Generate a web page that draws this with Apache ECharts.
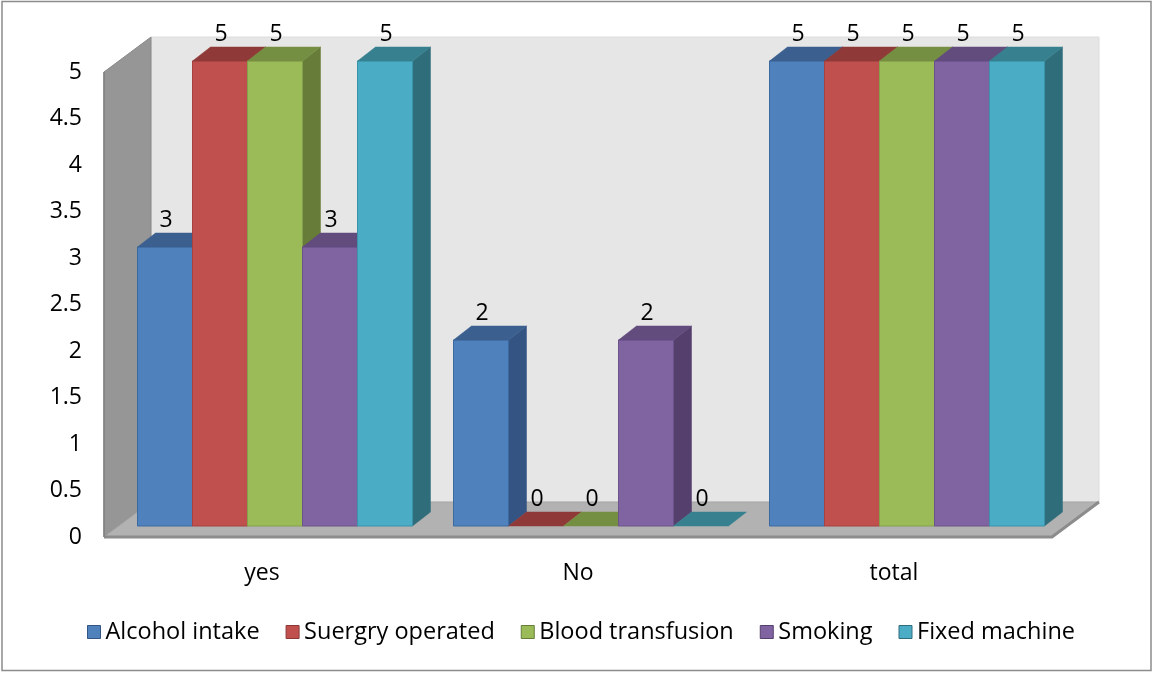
<!DOCTYPE html>
<html>
<head>
<meta charset="utf-8">
<title>Risk factors</title>
<script src="https://cdn.jsdelivr.net/npm/echarts@6/dist/echarts.min.js"></script>
<style>
  html, body { margin: 0; padding: 0; background: #ffffff; }
  #chart { width: 1154px; height: 673px; }
</style>
</head>
<body>
<div id="chart"></div>
<script>
// Categories and series values
const categories = ['yes', 'No', 'total'];
const seriesNames = ['Alcohol intake', 'Suergry operated', 'Blood transfusion', 'Smoking', 'Fixed machine'];
const alcoholIntake = [3, 2, 5];
const surgeryOperated = [5, 0, 5];
const bloodTransfusion = [5, 0, 5];
const smoking = [3, 2, 5];
const fixedMachine = [5, 0, 5];
const yMin = 0;
const yMax = 5;
const yStep = 0.5;

const seriesValues = [alcoholIntake, surgeryOperated, bloodTransfusion, smoking, fixedMachine];

// Face colours per series: front, top, side, outline
const palette = [
  { front: '#4F81BD', top: '#3B5F8E', side: '#345584', edge: '#3C6AA0' },
  { front: '#C0504D', top: '#8F3A38', side: '#8A3735', edge: '#A64340' },
  { front: '#9BBB59', top: '#758F42', side: '#667C38', edge: '#84A04A' },
  { front: '#8064A2', top: '#624B7D', side: '#553F6D', edge: '#6C5389' },
  { front: '#4BACC6', top: '#36808F', side: '#306D7B', edge: '#3A93AA' }
];

// Oblique projection offsets (pixels) used for the 3D look
const WALL_DEPTH = [47, -35];   // front plane -> back wall
const BAR_FRONT = [13, -11];    // front plane -> bar front faces
const BAR_DEPTH = [18, -14];    // bar thickness
const BAR_FRAC = 55 / 316;      // bar width as share of a category band
const FONT = '"Open Sans", "Liberation Sans", sans-serif';
const FONT_SIZE = 23;

function wallRenderer(params, api) {
  const cs = params.coordSys;
  const L = cs.x, R = cs.x + cs.width, T = cs.y, B = cs.y + cs.height;
  const dx = WALL_DEPTH[0], dy = WALL_DEPTH[1];
  return {
    type: 'group',
    children: [
      { type: 'rect', shape: { x: L + dx, y: T + dy, width: R - L, height: B - T },
        style: { fill: '#E6E6E6', stroke: '#DCDCDC', lineWidth: 1 } },
      { type: 'polygon', shape: { points: [[L, T], [L + dx, T + dy], [L + dx, B + dy], [L, B]] },
        style: { fill: '#969696', stroke: '#8A8A8A', lineWidth: 1 } },
      { type: 'polygon', shape: { points: [[L, B], [L + dx, B + dy], [R + dx, B + dy], [R, B]] },
        style: { fill: '#B2B2B2', stroke: '#A6A6A6', lineWidth: 1 } },
      { type: 'polyline', shape: { points: [[L, B], [R, B], [R + dx, B + dy]] },
        style: { fill: null, stroke: '#8C8C8C', lineWidth: 3 } },
      { type: 'line', shape: { x1: L, y1: T, x2: L, y2: B },
        style: { stroke: '#808080', lineWidth: 1.5 } }
    ]
  };
}

function barRenderer(seriesIndex) {
  const c = palette[seriesIndex];
  return function (params, api) {
    const cat = api.value(0);
    const val = api.value(1);
    const base = api.coord([cat, 0]);
    const top = api.coord([cat, val]);
    const band = api.size([1, 0])[0];
    const w = band * BAR_FRAC;
    const x1 = base[0] - 2.5 * w + seriesIndex * w + BAR_FRONT[0];
    const x2 = x1 + w;
    const yB = base[1] + BAR_FRONT[1];
    const yT = top[1] + BAR_FRONT[1];
    const dx = BAR_DEPTH[0], dy = BAR_DEPTH[1];
    const children = [];
    if (yB - yT > 0.5) {
      children.push({ type: 'polygon',
        shape: { points: [[x2, yT], [x2 + dx, yT + dy], [x2 + dx, yB + dy], [x2, yB]] },
        style: { fill: c.side, stroke: c.side, lineWidth: 0.5 } });
      children.push({ type: 'rect',
        shape: { x: x1, y: yT, width: w, height: yB - yT },
        style: { fill: c.front, stroke: c.edge, lineWidth: 1 } });
    }
    children.push({ type: 'polygon',
      shape: { points: [[x1, yT], [x1 + dx, yT + dy], [x2 + dx, yT + dy], [x2, yT]] },
      style: { fill: c.top, stroke: c.top, lineWidth: 0.5 } });
    children.push({ type: 'text', z2: 100,
      style: { text: String(val), x: (x1 + x2) / 2 + 1, y: yT + dy - 13,
        fill: '#000000', fontSize: FONT_SIZE, fontFamily: FONT,
        align: 'center', verticalAlign: 'middle' } });
    return { type: 'group', children: children };
  };
}

const chart = echarts.init(document.getElementById('chart'), null, { renderer: 'canvas' });

const series = [{
  type: 'custom',
  name: 'walls',
  z: 1,
  silent: true,
  data: [[0, 0]],
  encode: { x: 0, y: 1 },
  renderItem: wallRenderer
}];

seriesNames.forEach(function (name, i) {
  series.push({
    type: 'custom',
    name: name,
    z: 2,
    itemStyle: { color: palette[i].front },
    data: seriesValues[i].map(function (v, k) { return [k, v]; }),
    encode: { x: 0, y: 1 },
    renderItem: barRenderer(i)
  });
});

chart.setOption({
  animation: false,
  backgroundColor: '#ffffff',
  textStyle: { fontFamily: FONT },
  grid: { left: 104, right: 102, top: 72, bottom: 136, containLabel: false },
  xAxis: {
    type: 'category',
    data: categories,
    axisLine: { show: false },
    axisTick: { show: false },
    splitLine: { show: false },
    axisLabel: { color: '#000000', fontSize: FONT_SIZE, fontFamily: FONT, margin: 25 }
  },
  yAxis: {
    type: 'value',
    min: yMin,
    max: yMax,
    interval: yStep,
    axisLine: { show: false },
    axisTick: { show: false },
    splitLine: { show: false },
    axisLabel: { color: '#000000', fontSize: FONT_SIZE, fontFamily: FONT, margin: 22 }
  },
  legend: {
    left: 87,
    top: 618,
    padding: 0,
    itemWidth: 13,
    itemHeight: 13,
    itemGap: 26,
    icon: 'rect',
    textStyle: { color: '#000000', fontSize: 23.5, fontFamily: FONT, lineHeight: 28 },
    data: seriesNames.map(function (name, i) {
      return { name: name, itemStyle: { color: palette[i].front, borderColor: palette[i].side, borderWidth: 1 } };
    })
  },
  graphic: [{
    type: 'rect',
    shape: { x: 2, y: 1.5, width: 1149, height: 669 },
    style: { fill: null, stroke: '#8C8C8C', lineWidth: 1.5 },
    silent: true,
    z: 100
  }],
  series: series
});
</script>
</body>
</html>
